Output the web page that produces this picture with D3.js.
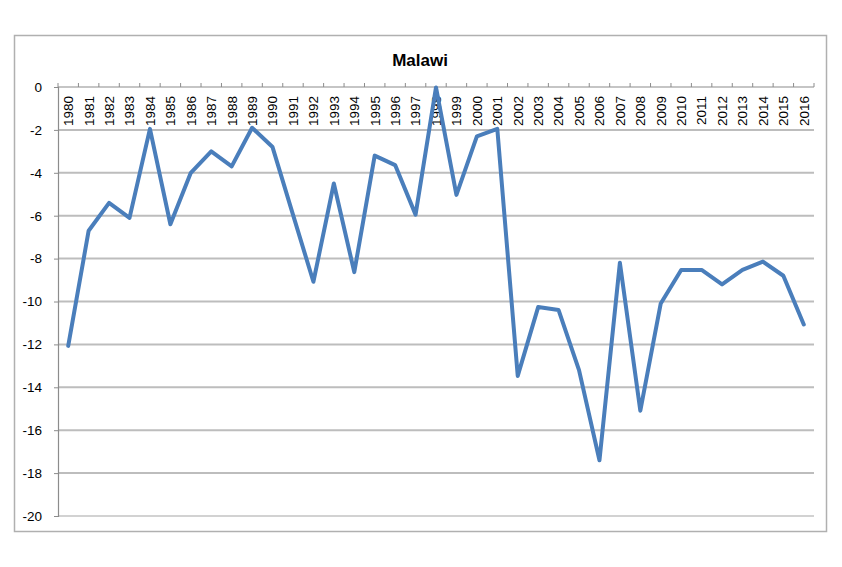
<!DOCTYPE html>
<html>
<head>
<meta charset="utf-8">
<script src="https://cdn.jsdelivr.net/npm/d3@7"></script>
<style>
  html, body { margin: 0; padding: 0; background: #fff; }
  svg { display: block; }
  text { font-family: "Liberation Sans", Arial, sans-serif; fill: #000; }
</style>
</head>
<body>
<svg id="chart" width="842" height="567"></svg>
<script>
const title = "Malawi";
const years = ["1980","1981","1982","1983","1984","1985","1986","1987","1988","1989",
  "1990","1991","1992","1993","1994","1995","1996","1997","1998","1999",
  "2000","2001","2002","2003","2004","2005","2006","2007","2008","2009",
  "2010","2011","2012","2013","2014","2015","2016"];
const values = [-12.07, -6.7, -5.4, -6.1, -1.95, -6.4, -4.0, -3.0, -3.7, -1.9,
  -2.8, -5.95, -9.08, -4.5, -8.63, -3.2, -3.64, -5.95, -0.02, -5.03,
  -2.3, -1.95, -13.47, -10.26, -10.4, -13.2, -17.4, -8.19, -15.09, -10.09,
  -8.53, -8.53, -9.2, -8.53, -8.14, -8.8, -11.07];
const yTicks = [0, -2, -4, -6, -8, -10, -12, -14, -16, -18, -20];

const svg = d3.select("#chart");
const plot = { left: 58, right: 814, top: 87, bottom: 516 };

// outer chart border
svg.append("rect")
  .attr("x", 14.5).attr("y", 35.5)
  .attr("width", 812).attr("height", 496)
  .attr("fill", "#fff").attr("stroke", "#b0b0b0").attr("stroke-width", 1.5);

const x = d3.scaleBand().domain(years).range([plot.left, plot.right]).padding(0);
const y = d3.scaleLinear().domain([-20, 0]).range([plot.bottom, plot.top]);

// gridlines
svg.append("g").selectAll("line")
  .data(yTicks.filter(d => d !== 0 && d !== -20))
  .join("line")
  .attr("x1", plot.left).attr("x2", plot.right)
  .attr("y1", d => y(d)).attr("y2", d => y(d))
  .attr("stroke", "#bdbdbd").attr("stroke-width", 2);

// bottom line at -20
svg.append("line")
  .attr("x1", plot.left).attr("x2", plot.right)
  .attr("y1", y(-20)).attr("y2", y(-20))
  .attr("stroke", "#a6a6a6").attr("stroke-width", 1.2);

// y axis
const yAxis = d3.axisLeft(y).tickValues(yTicks).tickSize(4).tickPadding(12)
  .tickFormat(d => d === 0 ? "0" : "-" + Math.abs(d));
const gy = svg.append("g").attr("transform", `translate(${plot.left},0)`).call(yAxis);
gy.select(".domain").attr("stroke", "#8c8c8c").attr("stroke-width", 1.2);
gy.selectAll(".tick line").attr("stroke", "#8c8c8c");
gy.selectAll(".tick text")
  .style("font-family", "'Liberation Sans', Arial, sans-serif")
  .style("font-size", "13.5px").attr("fill", "#000");

// category axis along the top (at y = 0)
svg.append("line")
  .attr("x1", plot.left).attr("x2", plot.right)
  .attr("y1", y(0)).attr("y2", y(0))
  .attr("stroke", "#8c8c8c").attr("stroke-width", 1.2);
const bounds = years.map(d => x(d)).concat([plot.right]);
svg.append("g").selectAll("line")
  .data(bounds)
  .join("line")
  .attr("x1", d => d).attr("x2", d => d)
  .attr("y1", y(0)).attr("y2", y(0) - 4)
  .attr("stroke", "#8c8c8c").attr("stroke-width", 1);

svg.append("g").selectAll("text")
  .data(years)
  .join("text")
  .attr("transform", d => `translate(${x(d) + x.bandwidth() / 2},${y(0) + 9}) rotate(-90)`)
  .attr("text-anchor", "end")
  .attr("dy", "0.36em")
  .style("font-size", "13.5px")
  .text(d => d);

// data line
const line = d3.line()
  .x((d, i) => x(years[i]) + x.bandwidth() / 2)
  .y(d => y(d));
svg.append("path")
  .datum(values)
  .attr("d", line)
  .attr("fill", "none")
  .attr("stroke", "#4a7ebb")
  .attr("stroke-width", 4)
  .attr("stroke-linejoin", "round")
  .attr("stroke-linecap", "round");

// title
svg.append("text")
  .attr("x", 420).attr("y", 66)
  .attr("text-anchor", "middle")
  .style("font-size", "17px").style("font-weight", "bold")
  .text(title);
</script>
</body>
</html>
